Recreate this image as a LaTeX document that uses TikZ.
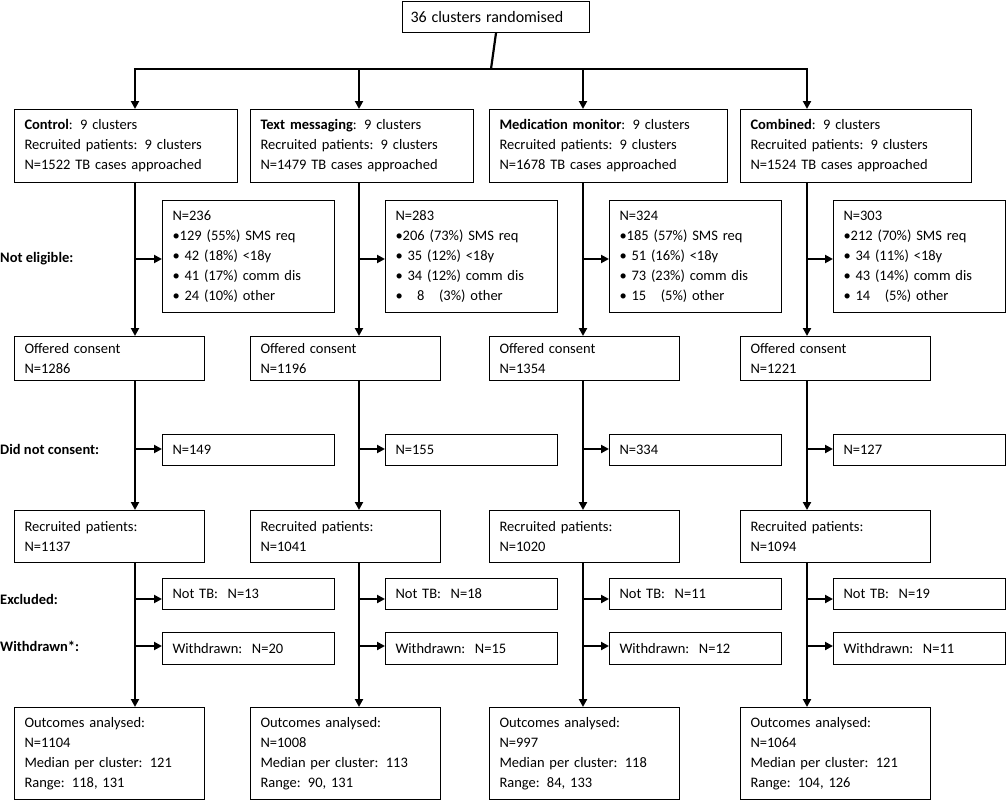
\documentclass[tikz,border=0pt]{standalone}
\usepackage{fontspec}
\setmainfont{Carlito}
\usetikzlibrary{arrows.meta}
\begin{document}
\begin{tikzpicture}[x=1pt,y=-1pt,
  bx/.style={draw,line width=1pt,anchor=north west,inner xsep=10pt,inner ysep=0pt,align=left,font=\fontsize{14.5}{20}\selectfont},
  lbl/.style={anchor=west,inner sep=0pt,font=\fontsize{14.5}{20}\selectfont\bfseries},
  fl/.style={line width=2.2pt},
  ar/.style={line width=2.2pt,-{Triangle[length=8pt,width=8pt]}}]
\useasboundingbox (0,0) rectangle (1006,800);
% \mybox{name}{x}{y}{w}{h}{text}
\newcommand{\mybox}[6]{%
  \pgfmathsetmacro{\tw}{#4-20}%
  \node[bx,minimum width=#4pt,minimum height=#5pt,text width=\tw pt] (#1) at (#2,#3) {#6};}
\newcommand{\docol}[1]{%
  \mybox{g#1}{\bl}{109}{\wa}{73}{\textbf{\nm}: 9 clusters\\Recruited patients: 9 clusters\\N=\napp\ TB cases approached}
  \mybox{ne#1}{\sl}{200}{172}{112}{N=\ne\\\textbullet\la\\\textbullet\lb\\\textbullet\lc\\\textbullet\ld}
  \mybox{oc#1}{\bl}{336}{190}{44}{Offered consent\\N=\off}
  \mybox{dn#1}{\sl}{434}{172}{31}{N=\dnc}
  \mybox{rp#1}{\bl}{510}{190}{52}{Recruited patients:\\N=\rec}
  \mybox{nt#1}{\sl}{578}{172}{31}{Not TB:\ \ \ntb}
  \mybox{wd#1}{\sl}{632}{172}{32}{Withdrawn:\ \ N=\wdn}
  \mybox{oa#1}{\bl}{707}{190}{92}{Outcomes analysed:\\N=\oan\\Median per cluster: \med\\Range: \rng}
  \coordinate (c#1) at (\cx,69);
  \draw[ar] (c#1) -- (c#1|-g#1.north);
  \draw[ar] (c#1|-g#1.south) -- (c#1|-oc#1.north);
  \draw[ar] (c#1|-oc#1.south) -- (c#1|-rp#1.north);
  \draw[ar] (c#1|-rp#1.south) -- (c#1|-oa#1.north);
  \draw[ar] (\cx,259) -- (ne#1.west|-0,259);
  \draw[ar] (\cx,449) -- (dn#1.west|-0,449);
  \draw[ar] (\cx,599) -- (nt#1.west|-0,599);
  \draw[ar] (\cx,646) -- (wd#1.west|-0,646);
}
\mybox{top}{402}{1}{187}{31}{\hspace*{-2pt}\fontsize{16}{20}\selectfont 36 clusters randomised}
\coordinate (hl) at (135,69); \coordinate (hr) at (807,69); \coordinate (hm) at (491,69);
\draw[fl] (top.south) -- (hm);
\draw[fl] ([xshift=-1.1pt]hl) -- ([xshift=1.1pt]hr);
%
\def\cx{135}\def\bl{14}\def\wa{223}\def\sl{162}\def\nm{Control}\def\napp{1522}\def\ne{236}
\def\la{129 (55\%) SMS req}\def\lb{\ 42 (18\%) <18y}\def\lc{\ 41 (17\%) comm dis}\def\ld{\ 24 (10\%) other}
\def\off{1286}\def\dnc{149}\def\rec{1137}\def\ntb{N=13}\def\wdn{20}\def\oan{1104}\def\med{121}\def\rng{118, 131}
\docol{1}
\def\cx{359}\def\bl{250}\def\wa{223}\def\sl{385}\def\nm{Text messaging}\def\napp{1479}\def\ne{283}
\def\la{206 (73\%) SMS req}\def\lb{\ 35 (12\%) <18y}\def\lc{\ 34 (12\%) comm dis}\def\ld{\ \ \ 8\ \ \ (3\%) other}
\def\off{1196}\def\dnc{155}\def\rec{1041}\def\ntb{N=18}\def\wdn{15}\def\oan{1008}\def\med{113}\def\rng{90, 131}
\docol{2}
\def\cx{583}\def\bl{489}\def\wa{238}\def\sl{609}\def\nm{Medication monitor}\def\napp{1678}\def\ne{324}
\def\la{185 (57\%) SMS req}\def\lb{\ 51 (16\%) <18y}\def\lc{\ 73 (23\%) comm dis}\def\ld{\ 15\ \ \ (5\%) other}
\def\off{1354}\def\dnc{334}\def\rec{1020}\def\ntb{N=11}\def\wdn{12}\def\oan{997}\def\med{118}\def\rng{84, 133}
\docol{3}
\def\cx{807}\def\bl{740}\def\wa{231}\def\sl{833}\def\nm{Combined}\def\napp{1524}\def\ne{303}
\def\la{212 (70\%) SMS req}\def\lb{\ 34 (11\%) <18y}\def\lc{\ 43 (14\%) comm dis}\def\ld{\ 14\ \ \ (5\%) other}
\def\off{1221}\def\dnc{127}\def\rec{1094}\def\ntb{N=19}\def\wdn{11}\def\oan{1064}\def\med{121}\def\rng{104, 126}
\docol{4}
%
\node[lbl] (l1) at (0,259) {Not eligible:};
\node[lbl] (l2) at (0,449) {Did not consent:};
\node[lbl] (l3) at (0,599) {Excluded:};
\node[lbl] (l4) at (0,646) {Withdrawn*:};
\end{tikzpicture}
\end{document}
